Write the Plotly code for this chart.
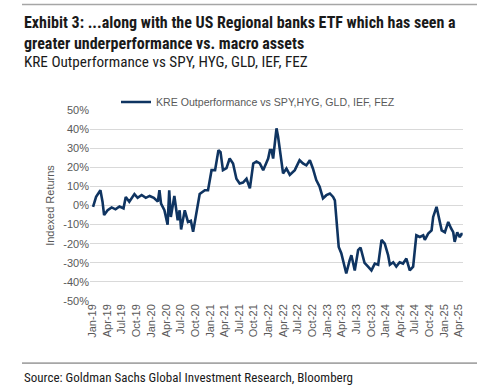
import plotly.graph_objects as go
import pandas as pd

dates = [
    "2019-01-02", "2019-01-21", "2019-02-17", "2019-03-02", "2019-03-12", "2019-04-03",
    "2019-04-28", "2019-05-22", "2019-06-16", "2019-07-11", "2019-07-25", "2019-08-16",
    "2019-09-17", "2019-10-07", "2019-11-01", "2019-11-27", "2019-12-21", "2020-01-16",
    "2020-02-10", "2020-02-20", "2020-03-01", "2020-03-22", "2020-04-11", "2020-04-21",
    "2020-05-01", "2020-05-23", "2020-06-13", "2020-06-25", "2020-07-04", "2020-07-27",
    "2020-08-16", "2020-09-03", "2020-09-17", "2020-10-08", "2020-10-28", "2020-11-29",
    "2020-12-19", "2021-01-10", "2021-02-01", "2021-02-22", "2021-03-07", "2021-03-22",
    "2021-04-13", "2021-05-03", "2021-05-24", "2021-06-14", "2021-07-04", "2021-07-25",
    "2021-08-16", "2021-09-06", "2021-09-27", "2021-10-17", "2021-11-07", "2021-11-28",
    "2021-12-29", "2022-01-09", "2022-01-19", "2022-01-29", "2022-02-09", "2022-02-19",
    "2022-03-01", "2022-03-21", "2022-04-01", "2022-04-22", "2022-05-13", "2022-06-13",
    "2022-07-13", "2022-08-03", "2022-08-24", "2022-09-15", "2022-10-04", "2022-10-25",
    "2022-11-15", "2022-12-06", "2022-12-27", "2023-01-18", "2023-02-07", "2023-02-18",
    "2023-03-09", "2023-03-14", "2023-03-30", "2023-04-19", "2023-04-30", "2023-05-21",
    "2023-06-01", "2023-06-22", "2023-07-13", "2023-07-28", "2023-08-22", "2023-09-13",
    "2023-10-04", "2023-10-25", "2023-11-15", "2023-12-06", "2023-12-26", "2024-01-16",
    "2024-01-27", "2024-02-17", "2024-03-07", "2024-03-28", "2024-04-18", "2024-05-09",
    "2024-05-30", "2024-06-20", "2024-07-10", "2024-08-01", "2024-08-22", "2024-09-01",
    "2024-09-22", "2024-10-13", "2024-10-23", "2024-11-13", "2024-11-28", "2024-12-15",
    "2025-01-04", "2025-01-25", "2025-02-12", "2025-02-25", "2025-03-06", "2025-03-22",
    "2025-04-07", "2025-04-17", "2025-04-25",
]
kre_outperformance = [
    -0.7, 4.5, 8.0, 2.0, -5.0, -2.5,
    -1.0, -2.0, -0.5, -1.5, 4.5, 2.0,
    6.0, 4.0, 5.5, 4.0, 5.0, 4.0,
    2.0, 8.0, 1.0, -2.5, -10.0, 8.0,
    -6.0, 5.0, -7.7, -2.5, -12.5, -2.5,
    -8.6, -8.0, -13.8, -4.0, 6.0, 8.0,
    8.0, 18.5, 18.5, 29.0, 28.0, 18.5,
    19.6, 24.6, 22.0, 14.0, 11.5, 12.0,
    14.0, 9.0, 22.0, 23.0, 22.0, 18.5,
    24.6, 29.0, 29.0, 24.6, 32.5, 40.4,
    36.0, 23.7, 16.8, 19.4, 16.0, 18.5,
    23.7, 22.0, 21.0, 23.7, 19.4, 13.3,
    9.8, 3.7, 5.4, 6.3, 4.5, 2.7,
    -14.7, -21.7, -25.0, -32.0, -35.6, -28.7,
    -26.0, -34.0, -23.4, -22.0, -30.0, -32.0,
    -34.0, -30.4, -31.0, -18.0, -20.0, -26.0,
    -31.0, -29.7, -32.0, -29.7, -30.4, -27.8,
    -34.0, -32.0, -15.6, -16.5, -15.6, -18.0,
    -14.7, -13.0, -6.0, -0.7, -6.0, -13.0,
    -14.0, -8.6, -12.0, -14.0, -19.0, -14.0,
    -16.5, -15.0, -15.0,
]
tick_dates = [
    "2019-01-01", "2019-04-01", "2019-07-01", "2019-10-01", "2020-01-01", "2020-04-01",
    "2020-07-01", "2020-10-01", "2021-01-01", "2021-04-01", "2021-07-01", "2021-10-01",
    "2022-01-01", "2022-04-01", "2022-07-01", "2022-10-01", "2023-01-01", "2023-04-01",
    "2023-07-01", "2023-10-01", "2024-01-01", "2024-04-01", "2024-07-01", "2024-10-01",
    "2025-01-01", "2025-04-01",
]
tick_labels = [
    "Jan-19", "Apr-19", "Jul-19", "Oct-19", "Jan-20", "Apr-20", "Jul-20", "Oct-20",
    "Jan-21", "Apr-21", "Jul-21", "Oct-21", "Jan-22", "Apr-22", "Jul-22", "Oct-22",
    "Jan-23", "Apr-23", "Jul-23", "Oct-23", "Jan-24", "Apr-24", "Jul-24", "Oct-24",
    "Jan-25", "Apr-25",
]
y_ticks = [50, 40, 30, 20, 10, 0, -10, -20, -30, -40, -50]
y_labels = ["%d%%" % v for v in y_ticks]

W, H = 500, 386
L, R, T, B = 90, 463, 110, 301  # plot area in pixels

def px(x):
    return (x - L) / (R - L)

def py(y):
    return (B - y) / (B - T)

NARROW = "Liberation Sans Narrow, Roboto Condensed, DejaVu Sans Condensed, Arial Narrow, sans-serif"
AXF = "Liberation Sans, Arial, sans-serif"

# tick marks on the 0% axis line: at each label and halfway between
td = pd.to_datetime(tick_dates)
axis_ticks = list(td) + [a + (b - a) / 2 for a, b in zip(td[:-1], td[1:])] + [td[-1] + (td[-1] - td[-2]) / 2]
axis_ticks = [t.strftime("%Y-%m-%d") for t in sorted(axis_ticks)]

fig = go.Figure()
fig.add_trace(go.Scatter(
    x=dates, y=kre_outperformance, mode="lines",
    name="KRE Outperformance vs SPY,HYG, GLD, IEF, FEZ",
    line=dict(color="#0f3461", width=2.6),
))

xrange = ["2018-12-14", "2025-04-27"]
fig.update_layout(
    width=W, height=H,
    margin=dict(l=L, r=W - R, t=T, b=H - B),
    paper_bgcolor="white", plot_bgcolor="white",
    showlegend=True,
    legend=dict(orientation="h", x=px(258), xanchor="center", y=py(102), yanchor="middle",
                font=dict(family=AXF, size=10.6, color="#595959"), bgcolor="rgba(0,0,0,0)"),
    xaxis=dict(type="date", range=xrange,
               tickvals=tick_dates, ticktext=tick_labels, tickangle=-90,
               tickfont=dict(family=AXF, size=11, color="#595959"),
               showgrid=False, zeroline=False, showline=False, ticks=""),
    xaxis2=dict(type="date", range=xrange, overlaying="x", anchor="free", position=0.5,
                side="bottom", tickvals=axis_ticks, showticklabels=False,
                ticks="outside", ticklen=3, tickcolor="#d0d0d0", tickwidth=1,
                showline=True, linecolor="#c8c8c8", linewidth=1, showgrid=False, zeroline=False),
    yaxis=dict(range=[-50, 50], tickvals=y_ticks, ticktext=y_labels,
               tickfont=dict(family=AXF, size=11, color="#595959"),
               showgrid=True, gridcolor="#d9d9d9", gridwidth=1, zeroline=False,
               title=dict(text="Indexed Returns", font=dict(family=AXF, size=11, color="#595959"),
                          standoff=6)),
)

annos = [
    dict(text="<b>Exhibit 3: ...along with the US Regional banks ETF which has seen a</b>", yp=23, size=16.0),
    dict(text="<b>greater underperformance vs. macro assets</b>", yp=43, size=16.0),
    dict(text="KRE Outperformance vs SPY, HYG, GLD, IEF, FEZ", yp=62, size=15.2),
    dict(text="Source: Goldman Sachs Global Investment Research, Bloomberg", yp=377, size=13),
]
for a in annos:
    fig.add_annotation(text=a["text"], xref="paper", yref="paper", x=px(22), y=py(a["yp"]),
                       xanchor="left", yanchor="middle", showarrow=False,
                       font=dict(family=NARROW, size=a["size"], color="#1a1a1a"))

# horizontal rules above the title and above the source line
for yy in (4.5, 363):
    fig.add_annotation(text="&nbsp;", xref="paper", yref="paper", x=px(22), y=py(yy),
                       xanchor="left", yanchor="middle", showarrow=False,
                       font=dict(size=1, color="#a6a6a6"),
                       width=455, height=1, bgcolor="#a6a6a6", borderpad=0, borderwidth=0)
    fig.add_shape(type="line", xref="paper", yref="paper", x0=px(22), x1=px(477),
                  y0=py(yy), y1=py(yy), line=dict(color="#a6a6a6", width=1.5))

fig.write_html("out.html", config={"displayModeBar": False},
               post_script="document.body.style.margin='0';document.body.style.overflow='hidden';")
